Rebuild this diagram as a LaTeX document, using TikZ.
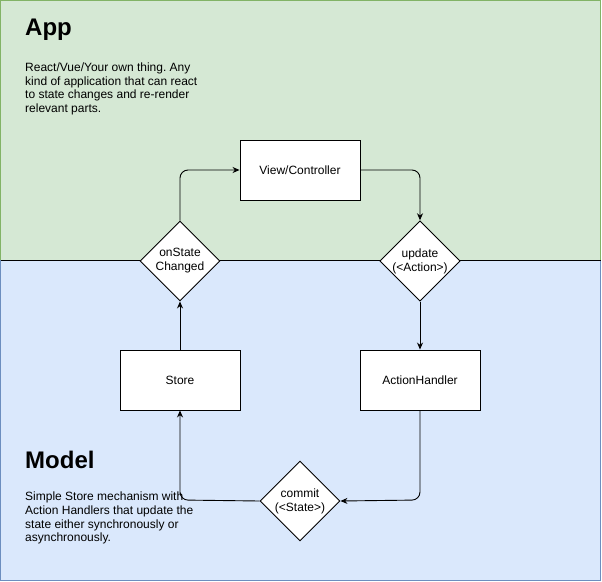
\documentclass[tikz,border=0pt]{standalone}
\usepackage{fontspec}
\setmainfont{Liberation Sans}
\usetikzlibrary{shapes.geometric,arrows.meta}
\definecolor{appfill}{HTML}{D5E8D4}
\definecolor{appline}{HTML}{82B366}
\definecolor{modfill}{HTML}{DAE8FC}
\definecolor{modline}{HTML}{6C8EBF}
\frenchspacing
\begin{document}
\begin{tikzpicture}[x=1pt,y=-1pt,
  box/.style={draw=black,fill=white,line width=0.9pt,minimum width=120pt,minimum height=60pt,inner sep=0pt,font=\fontsize{12}{14}\selectfont},
  dia/.style={draw=black,fill=white,line width=0.9pt,diamond,minimum width=80pt,minimum height=80pt,inner sep=0pt,font=\fontsize{12}{14}\selectfont,align=center},
  conn/.style={draw=black,line width=0.9pt,rounded corners=8pt,-{Stealth[length=7pt,width=6pt]}},
  title/.style={anchor=west,inner sep=0pt,font=\bfseries\fontsize{24}{28}\selectfont},
  desc/.style={anchor=north west,inner sep=0pt,align=left,font=\fontsize{12}{13.8}\selectfont}]
\useasboundingbox (0,0) rectangle (602,581);
\fill[appfill] (0.5,0.5) rectangle (600.5,260);
\fill[modfill] (0.5,260) rectangle (600.5,580);
\draw[appline,line width=0.9pt] (0.5,260) -- (0.5,0.5) -- (600.5,0.5) -- (600.5,260);
\draw[modline,line width=0.9pt] (0.5,260) -- (0.5,580) -- (600.5,580) -- (600.5,260);
\draw[black,line width=0.9pt] (0.5,260) -- (600.5,260);
\node[title] (apptitle) at (25,30) {App};
\node[desc] (appdesc) at (25,62.5) {React/Vue/Your own thing. Any\\kind of application that can react\\to state changes and re-render\\relevant parts.};
\node[desc] (moddesc) at (25,491.5) {Simple Store mechanism with\\Action Handlers that update the\\state either synchronously or\\asynchronously.};
\node[title] (modtitle) at (25,460) {Model};
\node[box] (view) at (300,170) {View/Controller};
\node[box] (store) at (180,380) {Store};
\node[box] (handler) at (420,380) {ActionHandler};
\node[dia] (onstate) at (180,261) {onState\\Changed};
\node[dia] (update) at (420,261) {update\\(<Action>)};
\node[dia] (commit) at (300,501) {commit\\(<State>)};
\draw[conn] (onstate.north) -- (180,170) -- (view.west);
\draw[conn] (view.east) -- (420,170) -- (update.north);
\draw[conn] (update.south) -- (handler.north);
\draw[conn] (handler.south) -- (420,500) -- (commit.east);
\draw[conn] (commit.west) -- (180,500) -- (store.south);
\draw[conn] (store.north) -- (onstate.south);
\end{tikzpicture}
\end{document}
